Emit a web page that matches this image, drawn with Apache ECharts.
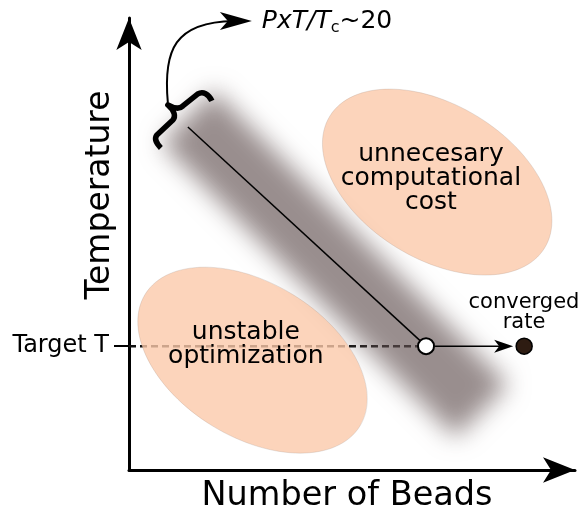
<!DOCTYPE html>
<html lang="en">
<head>
<meta charset="UTF-8">
<title>Temperature vs Number of Beads</title>
</head>
<body style="margin:0">
<div id="main" style="width:581px;height:506px;"></div>
<script src="https://cdn.jsdelivr.net/npm/echarts@6/dist/echarts.min.js"></script>
<script type="text/javascript">
// schematic values, both axes run 0..100 (no units)
var targetT = 27.4;
var pathX = [13.2, 66.6];   // convergence line, beads
var pathY = [75.9, 27.4];   // convergence line, temperature
var convergedX = 88.6;
var bandX = [13.2, 79.1];   // shaded band ends
var bandY = [78.1, 13.1];
var regionNames = ['unstable\noptimization', 'unnecesary\ncomputational\ncost'];
var regionX = [27.7, 69.1];
var regionY = [24.3, 63.7];
var regionLabelX = [26.2, 67.7];
var regionLabelY = [27.7, 64.4];
var yTickLabels = ['Target T'];

var font = 'DejaVu Sans';
var myChart = echarts.init(document.getElementById('main'));

var regionData = regionNames.map(function (n, i) {
	return [regionX[i], regionY[i], regionLabelX[i], regionLabelY[i]];
});

// only the shadow of an off-screen stroke is drawn, so the band is soft all round
function renderBand(params, api) {
	var a = api.coord([bandX[0], bandY[0]]);
	var b = api.coord([bandX[1], bandY[1]]);
	var off = 1500;
	return {
		type: 'line',
		shape: { x1: a[0] - off, y1: a[1], x2: b[0] - off, y2: b[1] },
		style: {
			stroke: '#000', lineWidth: 74,
			shadowBlur: 24, shadowColor: 'rgba(100,84,84,0.66)', shadowOffsetX: off
		}
	};
}

function renderRegion(params, api) {
	var c = api.coord([api.value(0), api.value(1)]);
	var t = api.coord([api.value(2), api.value(3)]);
	return {
		type: 'group',
		children: [{
			type: 'ellipse',
			x: c[0], y: c[1], rotation: -0.55,
			shape: { cx: 0, cy: 0, rx: 126, ry: 77 },
			style: { fill: 'rgb(251,201,170)', opacity: 0.8, stroke: 'rgba(150,130,120,0.3)', lineWidth: 0.8 }
		}, {
			type: 'text',
			x: t[0], y: t[1],
			style: {
				text: regionNames[params.dataIndex],
				fontSize: 25, fontFamily: font, fill: '#000',
				align: 'center', verticalAlign: 'middle', lineHeight: 24
			}
		}]
	};
}

function renderArrow(params, api) {
	var a = api.coord([pathX[1], targetT]);
	var b = api.coord([api.value(0), api.value(1)]);
	var tip = b[0] - 11;
	var y = b[1];
	return {
		type: 'group',
		children: [{
			type: 'line',
			shape: { x1: a[0] + 9, y1: a[1], x2: tip - 14, y2: y },
			style: { stroke: '#000', lineWidth: 1.5 }
		}, {
			type: 'polygon',
			shape: { points: [[tip, y], [tip - 19, y - 6.5], [tip - 14, y], [tip - 19, y + 6.5]] },
			style: { fill: '#000' }
		}]
	};
}

// brace + curved arrow + label at the start of the convergence line
function renderNote(params, api) {
	var p = api.coord([api.value(0), api.value(1)]);
	var x = p[0], y = p[1];
	return {
		type: 'group',
		children: [{
			type: 'path',
			shape: {
				pathData: 'M' + (x - 27) + ',' + (y + 21) +
					'C' + (x - 31) + ',' + (y + 17) + ' ' + (x - 34) + ',' + (y + 12) + ' ' + (x - 31) + ',' + (y + 8) +
					'L' + (x - 15) + ',' + (y - 7) +
					'C' + (x - 12) + ',' + (y - 10) + ' ' + (x - 13) + ',' + (y - 16) + ' ' + (x - 20) + ',' + (y - 22) +
					'C' + (x - 13) + ',' + (y - 18) + ' ' + (x - 8) + ',' + (y - 18) + ' ' + (x - 5) + ',' + (y - 21) +
					'L' + (x + 10) + ',' + (y - 33) +
					'C' + (x + 15) + ',' + (y - 36) + ' ' + (x + 21) + ',' + (y - 33) + ' ' + (x + 24) + ',' + (y - 26)
			},
			style: { fill: null, stroke: '#000', lineWidth: 5.5, lineJoin: 'round' }
		}, {
			type: 'bezierCurve',
			shape: { x1: x - 20, y1: y - 24, cpx1: x - 25, cpy1: y - 77, cpx2: x - 13, cpy2: y - 105, x2: x + 46, y2: y - 106 },
			style: { stroke: '#000', lineWidth: 2, fill: null }
		}, {
			type: 'polygon',
			shape: { points: [[x + 64, y - 106], [x + 32, y - 115], [x + 40, y - 106], [x + 32, y - 97]] },
			style: { fill: '#000' }
		}, {
			type: 'text',
			x: x + 74, y: y - 105,
			style: {
				text: '{i|PxT/T}{s|c}{n|~20}',
				align: 'left', verticalAlign: 'middle',
				rich: {
					i: { fontFamily: font, fontStyle: 'italic', fontSize: 25, lineHeight: 28, fill: '#000' },
					s: { fontFamily: font, fontSize: 16, lineHeight: 15, verticalAlign: 'bottom', fill: '#000' },
					n: { fontFamily: font, fontSize: 25, lineHeight: 28, fill: '#000' }
				}
			}
		}]
	};
}

myChart.setOption({
	animation: false,
	backgroundColor: '#fff',
	grid: { left: 129, right: 6, top: 18, bottom: 36, outerBoundsMode: 'none' },
	xAxis: {
		type: 'value', min: 0, max: 100,
		name: 'Number of Beads', nameLocation: 'middle', nameGap: 9, nameMoveOverlap: false,
		nameTextStyle: { fontSize: 33.5, fontFamily: font, color: '#000', padding: [0, 10, 0, 0] },
		axisLine: { show: true, symbol: ['none', 'arrow'], symbolSize: [19, 32], lineStyle: { color: '#000', width: 3 } },
		axisTick: { show: false },
		axisLabel: { show: false },
		splitLine: { show: false }
	},
	yAxis: {
		type: 'value', min: 0, max: 100,
		axisLine: { show: true, symbol: ['none', 'arrow'], symbolSize: [19, 32], lineStyle: { color: '#000', width: 3 } },
		axisTick: { show: true, customValues: [targetT], length: 15, lineStyle: { color: '#000', width: 2 } },
		axisLabel: {
			show: true, customValues: [targetT], margin: 20,
			formatter: function () { return yTickLabels[0]; },
			fontSize: 24, fontFamily: font, color: '#000'
		},
		splitLine: { show: false }
	},
	graphic: [{
		type: 'text', x: 100, y: 195, rotation: Math.PI / 2,
		style: { text: 'Temperature', fontSize: 33, fontFamily: font, fill: '#000', align: 'center', verticalAlign: 'middle' }
	}, {
		type: 'text', x: 524, y: 313,
		style: { text: 'converged\nrate', fontSize: 21, lineHeight: 20, fontFamily: font, fill: '#000', align: 'center', verticalAlign: 'middle' }
	}],
	series: [{
		type: 'line', z: 1, silent: true, symbol: 'none',
		data: [[0, targetT], [pathX[1], targetT]],
		lineStyle: { color: '#111', width: 2.5, type: [7, 4] }
	}, {
		type: 'custom', z: 2, silent: true,
		renderItem: renderBand,
		data: [[bandX[0], bandY[0]]]
	}, {
		type: 'custom', z: 3, silent: true,
		renderItem: renderRegion,
		data: regionData
	}, {
		type: 'line', z: 4, silent: true, symbol: 'none',
		data: [[pathX[0], pathY[0]], [pathX[1], pathY[1]]],
		lineStyle: { color: '#000', width: 1.5 }
	}, {
		type: 'custom', z: 5, silent: true,
		renderItem: renderArrow,
		data: [[convergedX, targetT]]
	}, {
		type: 'scatter', z: 6, silent: true, symbolSize: 16,
		data: [[pathX[1], targetT]],
		itemStyle: { color: '#fff', borderColor: '#000', borderWidth: 2, opacity: 1 }
	}, {
		type: 'scatter', z: 6, silent: true, symbolSize: 16,
		data: [[convergedX, targetT]],
		itemStyle: { color: '#2e1c12', borderColor: '#000', borderWidth: 1.5, opacity: 1 }
	}, {
		type: 'custom', z: 7, silent: true,
		renderItem: renderNote,
		data: [[pathX[0], pathY[0]]]
	}]
});
</script>
</body>
</html>
